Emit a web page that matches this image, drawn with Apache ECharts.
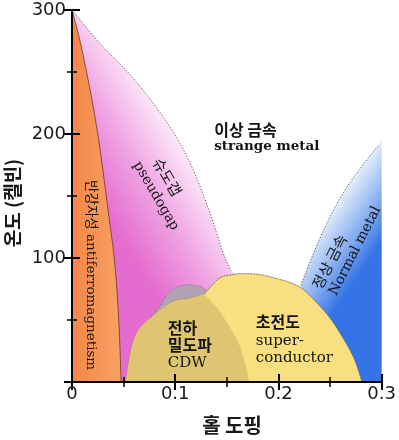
<!DOCTYPE html>
<html>
<head>
<meta charset="utf-8">
<script src="https://cdn.jsdelivr.net/npm/echarts@6/dist/echarts.min.js"></script>
<style>
html, body { margin: 0; padding: 0; background: #fff; }
#chart { width: 399px; height: 440px; }
</style>
</head>
<body>
<div id="chart"></div>
<script>
// axis ranges / ticks
var xTicks = [0, 0.1, 0.2, 0.3];
var yTicks = [0, 100, 200, 300];

// phase boundaries: [hole doping, temperature (K)]
var afBoundary = [[0, 300], [0.0099, 267], [0.024, 205], [0.0363, 130], [0.0415, 95], [0.0453, 50], [0.0476, 0]];
var pseudogapLine = [[0, 300], [0.0266, 273.6], [0.0588, 245.4], [0.091, 210.5], [0.1136, 178], [0.133, 138], [0.1458, 105.6], [0.154, 89.5]];
var normalMetalLine = [[0.2216, 78], [0.2394, 114.5], [0.2587, 146.9], [0.278, 171], [0.2974, 191.3]];
var cdwOuter = [[0.052, 0], [0.057, 25], [0.063, 40], [0.075, 51], [0.0975, 64.7], [0.1136, 67.4], [0.128, 71]];
var cdwInner = [[0.128, 71], [0.143, 57], [0.162, 30], [0.172, 0]];
var cdwCap = [[0.075, 51], [0.0846, 60.6], [0.0943, 72.7], [0.107, 78], [0.12, 78], [0.128, 75.5], [0.13, 72]];
var scDome = [[0.128, 71], [0.1426, 83.6], [0.155, 86.5], [0.167, 87.4], [0.183, 86.5], [0.2, 83], [0.212, 80], [0.2235, 75], [0.237, 64], [0.2522, 49], [0.2716, 22], [0.281, 0]];

// labels: [doping, temperature, text, kind]
var notes = [
  [0.1378, 203.6, '이상 금속', 'smKr'],
  [0.1378, 190, 'strange metal', 'smEn'],
  [0.0924, 165.4, '슈도갭', 'pgKr'],
  [0.0814, 150, 'pseudogap', 'pgEn'],
  [0.0179, 86.2, '반강자성 antiferromagnetism', 'af'],
  [0.2493, 97, '정상 금속', 'nmKr'],
  [0.2742, 105.6, 'Normal metal', 'nmEn'],
  [0.0927, 43.4, '전하', 'domeKr'],
  [0.0927, 29.7, '밀도파', 'domeKr'],
  [0.0927, 15.1, 'CDW', 'domeEn'],
  [0.1781, 48.2, '초전도', 'domeKr'],
  [0.1781, 32.9, 'super-', 'domeEn'],
  [0.1781, 19.2, 'conductor', 'domeEn']
];

var KR = '"Noto Sans CJK KR"';
var SERIF = '"DejaVu Serif", "Noto Sans CJK KR"';
var noteStyle = {
  smKr:   { font: 'bold 16px ' + KR, rot: 0, align: 'left' },
  smEn:   { font: 'bold 13.5px ' + SERIF, rot: 0, align: 'left' },
  pgKr:   { font: '15px ' + KR, rot: -1.04, align: 'center' },
  pgEn:   { font: '14px ' + SERIF, rot: -1.04, align: 'center' },
  af:     { font: '13.5px ' + SERIF, rot: -Math.PI / 2, align: 'center' },
  nmKr:   { font: '15px ' + KR, rot: 1.1, align: 'center' },
  nmEn:   { font: '14px ' + SERIF, rot: 1.1, align: 'center' },
  domeKr: { font: 'bold 16px ' + KR, rot: 0, align: 'left' },
  domeEn: { font: '15px ' + SERIF, rot: 0, align: 'left' }
};

// catmull-rom through the points -> svg path
function curvePath(P, first) {
  var d = (first ? 'M' : 'L') + P[0][0] + ' ' + P[0][1];
  for (var i = 0; i < P.length - 1; i++) {
    var p0 = P[i - 1] || P[i], p1 = P[i], p2 = P[i + 1], p3 = P[i + 2] || P[i + 1];
    d += 'C' + (p1[0] + (p2[0] - p0[0]) / 6) + ' ' + (p1[1] + (p2[1] - p0[1]) / 6) + ' ' +
         (p2[0] - (p3[0] - p1[0]) / 6) + ' ' + (p2[1] - (p3[1] - p1[1]) / 6) + ' ' + p2[0] + ' ' + p2[1];
  }
  return d;
}
function buildPath(api, pieces, close) {
  var d = '';
  pieces.forEach(function (pc, k) {
    d += curvePath(pc.map(function (p) { return api.coord(p); }), k === 0);
  });
  return close ? d + 'Z' : d;
}
function grad(api, a, b, stops) {
  var pa = api.coord(a), pb = api.coord(b);
  return new echarts.graphic.LinearGradient(pa[0], pa[1], pb[0], pb[1], stops, true);
}

function shape(pieces, close, styleFn, z) {
  return {
    type: 'custom', coordinateSystem: 'cartesian2d', data: [[0, 0]], silent: true, z: z,
    renderItem: function (params, api) {
      return { type: 'path', shape: { pathData: buildPath(api, pieces, close) }, style: styleFn(api) };
    }
  };
}

var series = [
  // pseudogap
  shape([pseudogapLine, [[0.16, 86]], [[0.16, 0]], [[0, 0]]], true, function (api) {
    return { fill: grad(api, [0.0085, 168], [0.091, 210.5], [
      { offset: 0, color: '#e46ccf' }, { offset: 0.5, color: '#efa2e2' }, { offset: 1, color: '#fce8f8' }]) };
  }, 1),
  // normal metal
  shape([normalMetalLine, [[0.3, 195]], [[0.3, 0]], [[0.24, 0]]], true, function (api) {
    return { fill: grad(api, [0.2587, 146.9], [0.306, 120], [
      { offset: 0, color: '#e4edfb' }, { offset: 0.5, color: '#8fb4f1' }, { offset: 1, color: '#3574e6' }]) };
  }, 1),
  // antiferromagnet
  shape([afBoundary, [[0, 0]]], true, function (api) {
    return { fill: grad(api, [0, 150], [0.045, 150], [
      { offset: 0, color: '#f4874a' }, { offset: 1, color: '#f8a062' }]) };
  }, 2),
  shape([afBoundary], false, function () {
    return { fill: 'none', stroke: '#6a3826', lineWidth: 0.8 };
  }, 3),
  // CDW cap (grey)
  shape([cdwCap, [[0.11, 55]]], true, function () {
    return { fill: '#b0a2b2' };
  }, 3),
  // superconducting dome
  shape([cdwOuter, scDome], true, function () {
    return { fill: '#f9df80', stroke: 'rgba(110,90,50,0.45)', lineWidth: 0.8 };
  }, 4),
  // CDW inside the dome
  shape([cdwOuter, cdwInner], true, function () {
    return { fill: '#dfc572' };
  }, 5),
  // dotted boundaries
  shape([pseudogapLine], false, function () {
    return { fill: 'none', stroke: '#555', lineWidth: 1, lineDash: [1.2, 1.8] };
  }, 6),
  shape([normalMetalLine], false, function () {
    return { fill: 'none', stroke: '#555', lineWidth: 1, lineDash: [1.2, 1.8] };
  }, 6),
  shape([cdwCap], false, function () {
    return { fill: 'none', stroke: '#666', lineWidth: 0.8, lineDash: [1.2, 1.8] };
  }, 6),
  shape([scDome], false, function () {
    return { fill: 'none', stroke: '#666', lineWidth: 0.8, lineDash: [1.2, 1.8] };
  }, 6),
  // labels
  {
    type: 'custom', coordinateSystem: 'cartesian2d', silent: true, z: 8,
    data: notes.map(function (n) { return [n[0], n[1]]; }),
    renderItem: function (params, api) {
      var n = notes[params.dataIndex], st = noteStyle[n[3]];
      var p = api.coord([n[0], n[1]]);
      return {
        type: 'text', x: p[0], y: p[1], rotation: st.rot,
        style: { text: n[2], font: st.font, fill: '#141414', align: st.align, verticalAlign: 'middle',
                 textAlign: st.align, textVerticalAlign: 'middle' }
      };
    }
  }
];

var axisCommon = {
  type: 'value', z: 10,
  axisLine: { show: true, lineStyle: { color: '#000', width: 2 } },
  axisTick: { show: true, inside: true, length: 8, lineStyle: { color: '#000', width: 2 } },
  minorTick: { show: true, splitNumber: 2, length: 5, lineStyle: { color: '#000', width: 1.5 } },
  splitLine: { show: false }
};
function ax(extra) { return Object.assign({}, axisCommon, extra); }

var chart = echarts.init(document.getElementById('chart'));
chart.setOption({
  animation: false,
  grid: { left: 72, right: 16, top: 10, bottom: 58 },
  xAxis: [
    ax({ position: 'bottom', min: xTicks[0], max: xTicks[xTicks.length - 1], interval: 0.1,
         axisLabel: { fontSize: 18, fontFamily: 'DejaVu Sans', color: '#1a1a1a', margin: 3,
                      showMinLabel: true, showMaxLabel: true } }),
    ax({ position: 'top', min: xTicks[0], max: xTicks[xTicks.length - 1], interval: 0.1,
         axisLabel: { show: false } })
  ],
  yAxis: [
    ax({ position: 'left', min: yTicks[0], max: yTicks[yTicks.length - 1], interval: 100,
         axisLabel: { fontSize: 18, fontFamily: 'DejaVu Sans', color: '#1a1a1a', margin: 6,
                      padding: [4, 0, 0, 0],
                      formatter: function (v) { return v === 0 ? '' : String(v); } } }),
    ax({ position: 'right', min: yTicks[0], max: yTicks[yTicks.length - 1], interval: 100,
         axisLabel: { show: false } })
  ],
  graphic: [
    { type: 'text', x: 232, y: 425, silent: true,
      style: { text: '홀 도핑', font: 'bold 20px ' + KR, fill: '#1a1a1a',
               align: 'center', verticalAlign: 'middle', textAlign: 'center', textVerticalAlign: 'middle' } },
    { type: 'text', x: 13, y: 203, rotation: Math.PI / 2, silent: true,
      style: { text: '온도 (켈빈)', font: 'bold 19px ' + KR, fill: '#1a1a1a',
               align: 'center', verticalAlign: 'middle', textAlign: 'center', textVerticalAlign: 'middle' } }
  ],
  series: series
});
</script>
</body>
</html>
